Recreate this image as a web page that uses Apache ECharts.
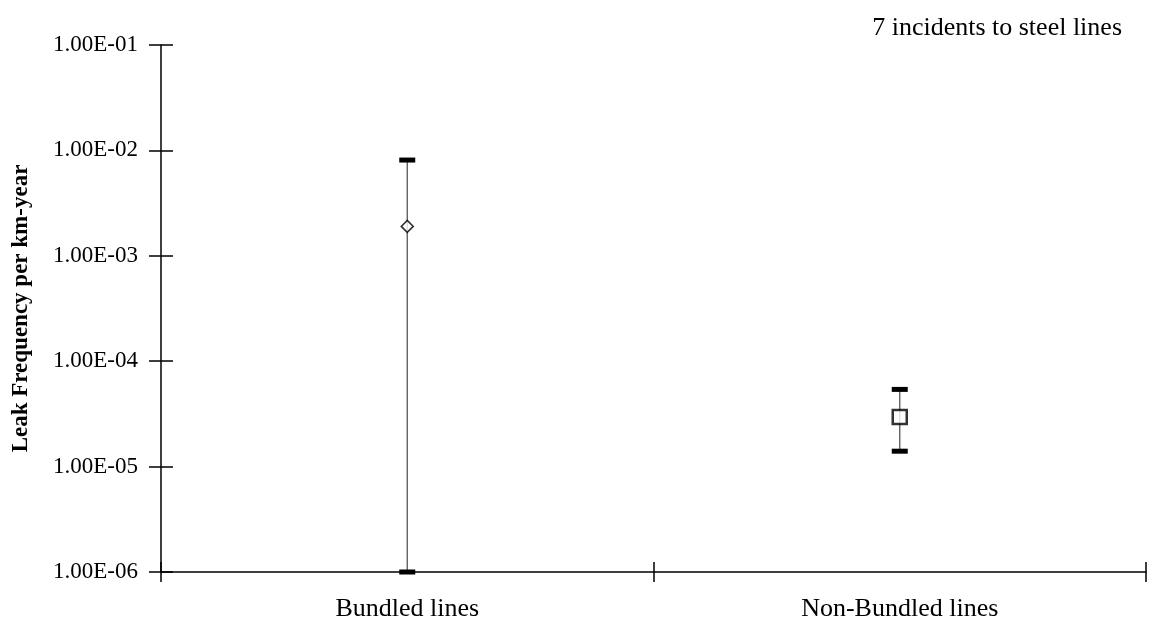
<!DOCTYPE html>
<html>
<head>
<meta charset="utf-8">
<script src="https://cdn.jsdelivr.net/npm/echarts@6/dist/echarts.min.js"></script>
<style>
  html, body { margin: 0; padding: 0; background: #fff; }
  #chart { width: 1151px; height: 625px; }
</style>
</head>
<body>
<div id="chart"></div>
<script>
// Leak frequency estimates (per km-year) with confidence bounds
const categories = ['Bundled lines', 'Non-Bundled lines'];
const bestEstimate = [1.9e-3, 2.95e-5];
const upperBound = [8.1e-3, 5.4e-5];
const lowerBound = [1.0e-6, 1.4e-5];
const tickLabels = ['1.00E-06', '1.00E-05', '1.00E-04', '1.00E-03', '1.00E-02', '1.00E-01'];
const markerShapes = ['diamond', 'rect'];
const markerSizes = [12, 14];

const FONT = '"Liberation Serif", "Times New Roman", serif';

function labelFor(v) {
  const idx = Math.round(Math.log10(v)) + 6;
  return tickLabels[idx] || '';
}

const logAxisBase = {
  type: 'log',
  logBase: 10,
  min: 1e-6,
  max: 1e-1,
  splitLine: { show: false }
};

const chart = echarts.init(document.getElementById('chart'));

chart.setOption({
  animation: false,
  backgroundColor: '#fff',
  grid: { left: 161, right: 5, top: 45, bottom: 53, containLabel: false, outerBoundsMode: 'none' },
  graphic: [{
    type: 'text',
    right: 29,
    top: 15,
    style: { text: '7 incidents to steel lines', font: '26px ' + FONT, fill: '#000' }
  }],
  xAxis: [{
    type: 'category',
    data: categories,
    boundaryGap: true,
    axisLine: { lineStyle: { color: '#000', width: 1.5 } },
    axisTick: { show: true, length: 10, lineStyle: { color: '#000', width: 1.5 } },
    axisLabel: { color: '#000', fontFamily: FONT, fontSize: 26, margin: 24 }
  }, {
    type: 'category',
    data: categories,
    position: 'bottom',
    boundaryGap: true,
    axisLine: { show: false },
    axisTick: { show: true, inside: true, length: 10, lineStyle: { color: '#000', width: 1.5 } },
    axisLabel: { show: false }
  }],
  yAxis: [Object.assign({}, logAxisBase, {
    name: 'Leak Frequency per km-year',
    nameLocation: 'middle',
    nameGap: 128,
    nameTextStyle: { color: '#000', fontFamily: FONT, fontSize: 23, fontWeight: 'bold' },
    axisLine: { show: true, lineStyle: { color: '#000', width: 1.5 } },
    axisTick: { show: true, length: 12, lineStyle: { color: '#000', width: 1.5 } },
    axisLabel: { color: '#000', fontFamily: FONT, fontSize: 23, margin: 23, formatter: labelFor }
  }), Object.assign({}, logAxisBase, {
    position: 'left',
    axisLine: { show: false },
    axisTick: { show: true, inside: true, length: 12, lineStyle: { color: '#000', width: 1.5 } },
    axisLabel: { show: false }
  })],
  series: [{
    type: 'custom',
    xAxisIndex: 0,
    yAxisIndex: 0,
    clip: false,
    data: categories.map((c, i) => [i, lowerBound[i], upperBound[i]]),
    renderItem: function (params, api) {
      const x = api.value(0);
      const lo = api.coord([x, api.value(1)]);
      const hi = api.coord([x, api.value(2)]);
      const capW = 16, capH = 5;
      return {
        type: 'group',
        children: [{
          type: 'line',
          shape: { x1: lo[0], y1: lo[1], x2: hi[0], y2: hi[1] },
          style: { stroke: '#555', lineWidth: 1.3 }
        }, {
          type: 'rect',
          shape: { x: hi[0] - capW / 2, y: hi[1] - capH / 2, width: capW, height: capH },
          style: { fill: '#000' }
        }, {
          type: 'rect',
          shape: { x: lo[0] - capW / 2, y: lo[1] - capH / 2, width: capW, height: capH },
          style: { fill: '#000' }
        }]
      };
    },
    z: 3
  }, {
    type: 'scatter',
    xAxisIndex: 0,
    yAxisIndex: 0,
    data: categories.map((c, i) => ({
      value: [i, bestEstimate[i]],
      symbol: markerShapes[i],
      symbolSize: markerSizes[i],
      itemStyle: { color: '#fff', borderColor: '#000', borderWidth: i === 0 ? 1.6 : 2.5 }
    })),
    z: 4
  }]
});
</script>
</body>
</html>
